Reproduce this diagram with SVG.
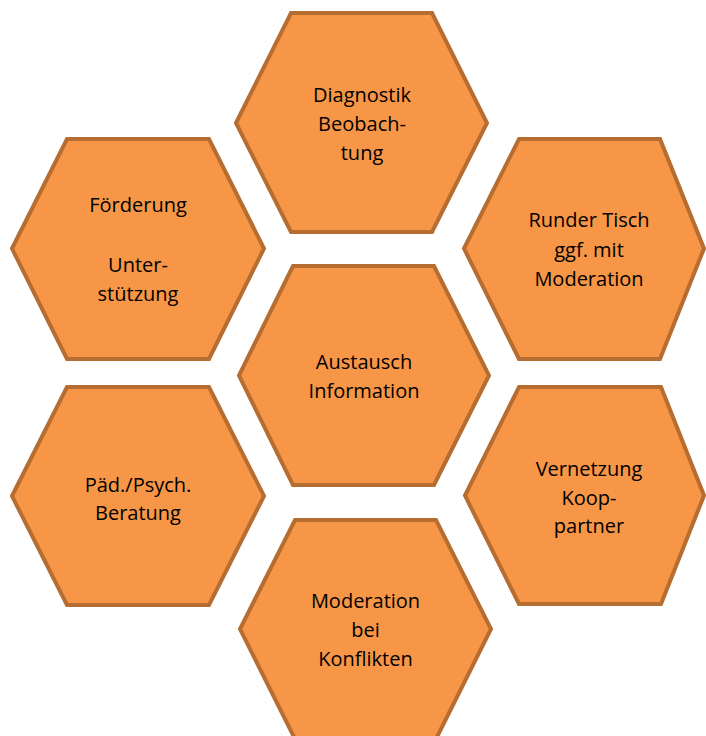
<svg xmlns="http://www.w3.org/2000/svg" width="706" height="736" viewBox="0 0 706 736">
<style>
.hex{fill:#F79646;stroke:#B66D31;stroke-width:4;stroke-linejoin:miter}
.t{font-family:"Open Sans","Noto Sans","Liberation Sans",sans-serif;font-size:20px;fill:#000;text-anchor:middle}
</style>
<rect width="706" height="736" fill="#fff"/>
<g id="connectors"></g>
<g id="diagnostik">
<polygon class="hex" points="236,123 291,13 432,13 487,123 432,232 291,232"/>
<text class="t" x="362" y="102">Diagnostik</text>
<text class="t" x="362" y="131">Beobach-</text>
<text class="t" x="362" y="160">tung</text>
</g>
<g id="foerderung">
<polygon class="hex" points="12,248.5 67,139 209,139 264,248.5 209,359 67,359"/>
<text class="t" x="138" y="212">Förderung</text>
<text class="t" x="138" y="272">Unter-</text>
<text class="t" x="138" y="301">stützung</text>
</g>
<g id="runder-tisch">
<polygon class="hex" points="464,248.5 519,139 660,139 704,248.5 660,359 519,359"/>
<text class="t" x="589" y="227">Runder Tisch</text>
<text class="t" x="589" y="257">ggf. mit</text>
<text class="t" x="589" y="286">Moderation</text>
</g>
<g id="austausch">
<polygon class="hex" points="239,375.5 293,266 434,266 489,375.5 434,485 293,485"/>
<text class="t" x="364" y="369">Austausch</text>
<text class="t" x="364" y="398">Information</text>
</g>
<g id="beratung">
<polygon class="hex" points="12,496 67,387 209,387 264,496 209,605 67,605"/>
<text class="t" x="138" y="492">Päd./Psych.</text>
<text class="t" x="138" y="520">Beratung</text>
</g>
<g id="vernetzung">
<polygon class="hex" points="465,495.5 519,387 661,387 704,495.5 661,604 519,604"/>
<text class="t" x="589" y="476">Vernetzung</text>
<text class="t" x="589" y="505">Koop-</text>
<text class="t" x="589" y="533">partner</text>
</g>
<g id="moderation">
<polygon class="hex" points="240,629 295,520 436,520 491,629 436,739 295,739"/>
<text class="t" x="365.5" y="608">Moderation</text>
<text class="t" x="365.5" y="637">bei</text>
<text class="t" x="365.5" y="666">Konflikten</text>
</g>
</svg>
